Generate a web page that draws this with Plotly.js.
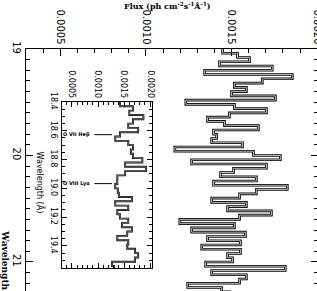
<!DOCTYPE html>
<html>
<head>
<meta charset="utf-8">
<script src="https://cdn.plot.ly/plotly-3.0.1.min.js"></script>
<style>html,body{margin:0;padding:0;overflow:hidden;background:#fff}</style>
</head>
<body>
<div id="chart"></div>
<script>
// Main spectrum: flux per 0.04 Å bin starting at 19.00 Å
const mainStart = 19.0;
const mainBin = 0.04;
const mainFlux = [
 0.001448,0.001535,0.001605,0.001430,0.001738,0.001343,0.001855,0.001680,0.001517,0.001587,
 0.001500,0.001756,0.001233,0.001517,0.001704,0.001488,0.001360,0.001459,0.001657,0.001395,
 0.001413,0.001384,0.001564,0.001169,0.001628,0.001785,0.001267,0.001704,0.001512,0.001436,
 0.001645,0.001395,0.001826,0.001645,0.001547,0.001384,0.001587,0.001477,0.001733,0.001547,
 0.001198,0.001517,0.001267,0.001581,0.001360,0.001552,0.001326,0.001552,0.001477,0.001506,
 0.001349,0.001814,0.001384,0.001587,0.001547,0.001244,0.001442,0.001488
];
// Inset spectrum: flux per 0.03 Å bin starting at 18.40 Å
const insetStart = 18.40;
const insetBin = 0.03;
const insetFlux = [
 0.00142,0.00167,0.00160,0.00187,0.00167,0.00158,0.00177,0.00142,0.00133,0.00158,
 0.00167,0.00163,0.00167,0.00185,0.00152,0.00192,0.00152,0.00137,0.00137,0.00133,
 0.00138,0.00140,0.00165,0.00133,0.00158,0.00137,0.00142,0.00158,0.00146,0.00165,
 0.00156,0.00137,0.00158,0.00156,0.00171,0.00177,0.00171,0.00127,0.00131
];
const lineNames = ['O VII Heβ', 'O VIII Lyα'];
const lineWaves = [18.627, 18.967];
const mainTicks = ['0.0005','0.0010','0.0015','0.0020'];

function steps(start, bin, vals){
  const x=[], y=[];
  vals.forEach((v,i)=>{ x.push(v); y.push(start+i*bin); });
  x.push(vals[vals.length-1]); y.push(start+vals.length*bin);
  return {x,y};
}
const m = steps(mainStart, mainBin, mainFlux);
const s = steps(insetStart, insetBin, insetFlux);

const traces = [
  {x:m.x, y:m.y, xaxis:'x', yaxis:'y', mode:'lines', line:{shape:'vh', color:'#000', width:2.6}, hoverinfo:'skip'},
  {x:m.x, y:m.y, xaxis:'x', yaxis:'y', mode:'lines', line:{shape:'vh', color:'#d0d0d0', width:0.9}, hoverinfo:'skip'},
  {x:s.x, y:s.y, xaxis:'x2', yaxis:'y2', mode:'lines', line:{shape:'vh', color:'#000', width:1.9}, hoverinfo:'skip'},
  {x:s.x, y:s.y, xaxis:'x2', yaxis:'y2', mode:'lines', line:{shape:'vh', color:'#a8a8a8', width:0.6}, hoverinfo:'skip'}
];

const axBase = {showline:true, linecolor:'#000', linewidth:1, mirror:'ticks', showgrid:false, zeroline:false,
  ticks:'inside', tickcolor:'#000', tickwidth:1, tickangle:90};

const layout = {
  width:330, height:340,
  margin:{l:26, r:12, t:49, b:22},
  showlegend:false,
  paper_bgcolor:'#fff', plot_bgcolor:'#fff',
  font:{family:'DejaVu Sans', size:9, color:'#000'},
  xaxis: Object.assign({}, axBase, {domain:[0,1], anchor:'y', side:'top', range:[0.0003,0.002005],
    tickmode:'array', tickvals:mainTicks.map(Number), ticktext:mainTicks, ticklen:7,
    minor:{dtick:0.0001, tick0:0, ticklen:4, ticks:'inside', tickcolor:'#000'},
    tickfont:{size:10, family:'DejaVu Sans', color:'#000'}}),
  yaxis: Object.assign({}, axBase, {domain:[0,1], anchor:'x', range:[21.526,19], autorange:false,
    tick0:19, dtick:1, ticklen:7,
    minor:{dtick:0.1, ticklen:4, ticks:'inside', tickcolor:'#000'},
    tickfont:{size:10, family:'DejaVu Sans', color:'#000'}}),
  xaxis2: Object.assign({}, axBase, {domain:[0.123,0.432], anchor:'y2', side:'top', range:[0.000308,0.002038],
    tickmode:'array', tickvals:mainTicks.map(Number), ticktext:mainTicks, ticklen:5,
    minor:{dtick:0.0001, tick0:0, ticklen:3, ticks:'inside', tickcolor:'#000'},
    tickfont:{size:8, family:'DejaVu Sans', color:'#000'}}),
  yaxis2: Object.assign({}, axBase, {domain:[0.186,0.803], anchor:'x2', range:[19.553,18.4], autorange:false,
    tick0:18.4, dtick:0.2, tickformat:'.1f', ticklen:5,
    minor:{dtick:0.05, ticklen:3, ticks:'inside', tickcolor:'#000'},
    tickfont:{size:8, family:'DejaVu Sans', color:'#000'}}),
  annotations: [
    {text:'<b>Flux (ph cm<sup>-2</sup>s<sup>-1</sup>Å<sup>-1</sup>)</b>', xref:'paper', yref:'paper',
     x:0.483, y:1.16, xanchor:'center', yanchor:'middle', showarrow:false,
     font:{family:'DejaVu Serif', size:8, color:'#000'}},
    {text:'<b>Wavelength (Å)</b>', xref:'paper', yref:'paper', x:-0.071, y:0.18, textangle:90,
     xanchor:'center', yanchor:'middle', showarrow:false, font:{family:'DejaVu Serif', size:9, color:'#000'}},
    {text:'Wavelength (Å)', xref:'paper', yref:'y2', x:0.048, y:18.96, textangle:90,
     xanchor:'center', yanchor:'middle', showarrow:false, font:{family:'DejaVu Sans', size:8, color:'#000'}},
  ].concat(lineNames.map((n,i)=>({text:'<b>'+n+'</b>', xref:'x2', yref:'y2', x:0.00089, y:lineWaves[i],
     xanchor:'right', yanchor:'middle', showarrow:false, font:{family:'DejaVu Sans', size:5, color:'#000'}}))),
  shapes: lineWaves.map(w=>({type:'line', xref:'x2', yref:'y2', x0:0.00093, x1:0.00127, y0:w, y1:w,
     line:{color:'#000', width:1}}))
};

Plotly.newPlot('chart', traces, layout, {staticPlot:true, displayModeBar:false});
</script>
</body>
</html>
